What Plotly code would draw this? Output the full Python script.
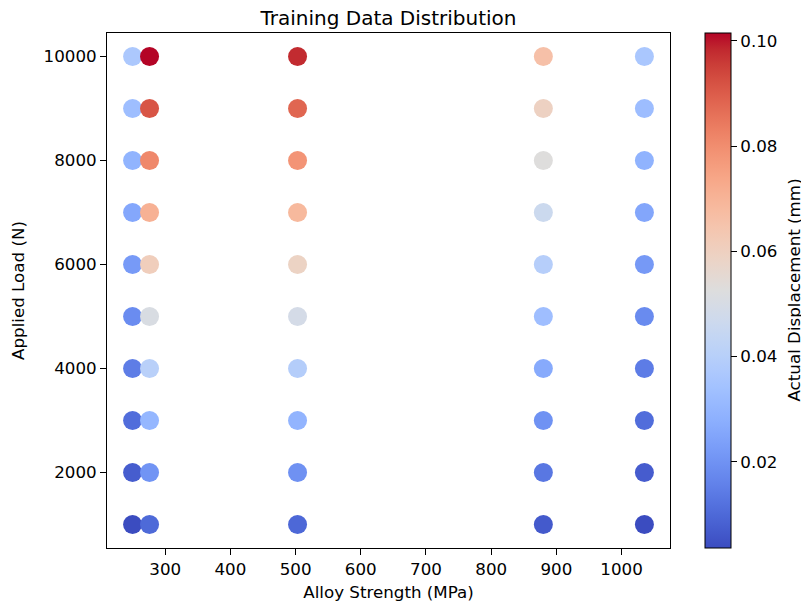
import plotly.graph_objects as go

# ---- data ----
strengths = [250, 276, 503, 880, 1035]          # Alloy Strength (MPa)
loads = [1000, 2000, 3000, 4000, 5000, 6000, 7000, 8000, 9000, 10000]  # Applied Load (N)

disp_250 = [0.0037, 0.0073, 0.0110, 0.0146, 0.0183, 0.0220, 0.0256, 0.0293, 0.0329, 0.0366]
disp_276 = [0.0101, 0.0203, 0.0304, 0.0406, 0.0507, 0.0609, 0.0710, 0.0812, 0.0913, 0.1015]
disp_503 = [0.0098, 0.0196, 0.0294, 0.0392, 0.0490, 0.0588, 0.0686, 0.0784, 0.0882, 0.0980]
disp_880 = [0.0066, 0.0132, 0.0198, 0.0264, 0.0330, 0.0396, 0.0462, 0.0528, 0.0594, 0.0660]
disp_1035 = [0.0036, 0.0072, 0.0109, 0.0145, 0.0181, 0.0217, 0.0253, 0.0290, 0.0326, 0.0362]

displacements = [disp_250, disp_276, disp_503, disp_880, disp_1035]

cb_ticks = [0.02, 0.04, 0.06, 0.08, 0.10]
cb_labels = ["0.02", "0.04", "0.06", "0.08", "0.10"]
x_ticks = [300, 400, 500, 600, 700, 800, 900, 1000]
x_labels = ["300", "400", "500", "600", "700", "800", "900", "1000"]
y_ticks = [2000, 4000, 6000, 8000, 10000]
y_labels = ["2000", "4000", "6000", "8000", "10000"]

# coolwarm colormap (Moreland diverging)
coolwarm_rgb = [
    (59, 76, 192), (68, 90, 204), (77, 104, 215), (87, 117, 225), (98, 130, 234),
    (108, 142, 241), (119, 154, 247), (130, 165, 251), (141, 176, 254), (152, 185, 255),
    (163, 194, 255), (174, 201, 253), (184, 208, 249), (194, 213, 244), (204, 217, 238),
    (213, 219, 230), (221, 221, 221), (229, 216, 209), (236, 211, 197), (241, 204, 185),
    (245, 196, 173), (247, 187, 160), (247, 177, 148), (247, 166, 135), (244, 154, 123),
    (241, 141, 111), (236, 127, 99), (229, 112, 88), (222, 96, 77), (213, 80, 66),
    (203, 62, 56), (192, 40, 47), (180, 4, 38),
]
n = len(coolwarm_rgb)
colorscale = [[i / (n - 1), "rgb(%d,%d,%d)" % c] for i, c in enumerate(coolwarm_rgb)]

xs, ys, cs = [], [], []
for s, d in zip(strengths, displacements):
    for L, v in zip(loads, d):
        xs.append(s)
        ys.append(L)
        cs.append(v)

cmin = min(cs)
cmax = max(cs)

FONT = "DejaVu Sans"
FS = 16.7

# page body has an 8px margin; figure spans window pixels 8..809 x 8..609
OFF = 8
W, H = 809 - OFF, 609 - OFF
L_, R_, T_, B_ = 107 - OFF, 670 - OFF, 33 - OFF, 548 - OFF

fig = go.Figure()
fig.add_trace(go.Scatter(
    x=xs, y=ys, mode="markers",
    marker=dict(
        size=19, color=cs, colorscale=colorscale, cmin=cmin, cmax=cmax,
        line=dict(width=0),
        colorbar=dict(
            x=(705 - OFF - L_) / (R_ - L_), xanchor="left", xref="paper",
            y=0.5, yanchor="middle", len=1.0, lenmode="fraction",
            thickness=26, thicknessmode="pixels",
            outlinewidth=1, outlinecolor="black",
            xpad=0, ypad=0,
            tickmode="array", tickvals=cb_ticks, ticktext=cb_labels,
            ticks="outside", ticklen=6, tickwidth=1, tickcolor="black",
            tickfont=dict(family=FONT, size=FS, color="black"),
        ),
    ),
    showlegend=False,
    hoverinfo="x+y",
))

# colorbar title placed as rotated text
fig.add_annotation(
    text="Actual Displacement (mm)", textangle=-90,
    xref="paper", yref="paper",
    x=(793 - OFF - L_) / (R_ - L_), y=0.5,
    xanchor="center", yanchor="middle", showarrow=False,
    font=dict(family=FONT, size=FS, color="black"),
)

fig.update_layout(
    width=W, height=H,
    margin=dict(l=L_, r=W - R_, t=T_, b=H - B_, autoexpand=False),
    paper_bgcolor="white", plot_bgcolor="white",
    font=dict(family=FONT, size=FS, color="black"),
    title=dict(text="Training Data Distribution", x=(L_ + R_) / 2 / W, xanchor="center",
               xref="container", y=1.0, yanchor="top", yref="container",
               pad=dict(t=3, b=0, l=0, r=0),
               font=dict(family=FONT, size=20, color="black")),
    xaxis=dict(
        range=[210.75, 1074.25], tickmode="array", tickvals=x_ticks, ticktext=x_labels,
        ticks="outside", ticklen=6, tickwidth=1, tickcolor="black",
        showline=True, mirror=True, linecolor="black", linewidth=1,
        showgrid=False, zeroline=False, automargin=False,
        tickfont=dict(family=FONT, size=FS, color="black"),
        title=dict(text="Alloy Strength (MPa)", standoff=8,
                   font=dict(family=FONT, size=FS, color="black")),
    ),
    yaxis=dict(
        range=[550, 10450], tickmode="array", tickvals=y_ticks, ticktext=y_labels,
        ticks="outside", ticklen=6, tickwidth=1, tickcolor="black",
        showline=True, mirror=True, linecolor="black", linewidth=1,
        showgrid=False, zeroline=False, automargin=False,
        tickfont=dict(family=FONT, size=FS, color="black"),
        title=dict(text="Applied Load (N)", standoff=14,
                   font=dict(family=FONT, size=FS, color="black")),
    ),
)

fig.write_html("out.html")
